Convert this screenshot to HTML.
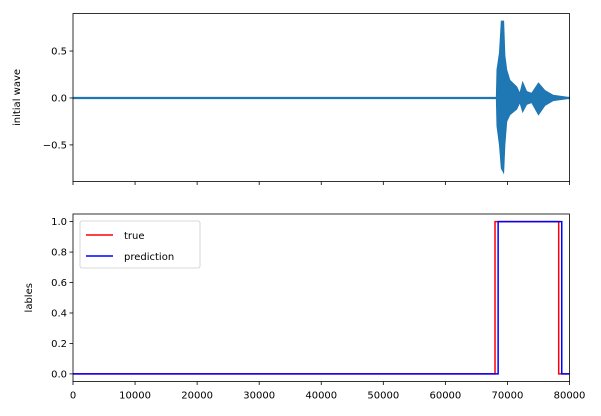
<!DOCTYPE html>
<html><head><meta charset="utf-8"><style>
body{margin:0;background:#fff;}
svg{display:block;font-family:"DejaVu Sans","Liberation Sans",sans-serif;}
</style></head><body>
<svg id="c" width="601" height="416" viewBox="0 0 601 416">
<rect width="601" height="416" fill="#fff"/>
<g id="topPanel"></g>
<g id="botPanel"></g>
</svg>
<script>
// x domain
const xTicks = [0,10000,20000,30000,40000,50000,60000,70000,80000];
// wave envelope (sample index, upper, lower)
const waveX = [0,68200,68300,68700,69000,69400,69600,69900,70400,71500,72000,72450,73100,73900,75000,76050,77350,79550,80000];
const waveUp = [0.008,0.008,0.3,0.48,0.82,0.82,0.45,0.3,0.19,0.12,0.05,0.17,0.07,0.05,0.16,0.08,0.03,0.01,0.008];
const waveLo = [-0.008,-0.008,-0.3,-0.5,-0.75,-0.8,-0.5,-0.25,-0.18,-0.12,-0.05,-0.15,-0.07,-0.05,-0.18,-0.08,-0.03,-0.01,-0.008];
const waveYTicks = [-0.5,0.0,0.5];
// labels
const trueX = [0,68000,68000,78260,78260,80000];
const trueY = [0,0,1,1,0,0];
const predX = [0,68500,68500,78750,78750,80000];
const predY = [0,0,1,1,0,0];
const labYTicks = [0.0,0.2,0.4,0.6,0.8,1.0];

const NS='http://www.w3.org/2000/svg';
const L=73,R=569.5;
const sx=v=>L+(v-0)/(80000-0)*(R-L);
const T1=13.5,B1=181.5, sy1=v=>B1-(v-(-0.89))/(0.90-(-0.89))*(B1-T1);
const T2=214,B2=381.5, sy2=v=>B2-(v-(-0.05))/(1.05-(-0.05))*(B2-T2);
function el(p,tag,a,txt){const e=document.createElementNS(NS,tag);for(const k in a)e.setAttribute(k,a[k]);if(txt!=null)e.textContent=txt;p.appendChild(e);return e;}
const gTop=document.getElementById('topPanel'),gBot=document.getElementById('botPanel');

// wave polygon
let pts=waveX.map((x,i)=>sx(x)+','+sy1(waveUp[i]));
for(let i=waveX.length-1;i>=0;i--)pts.push(sx(waveX[i])+','+sy1(waveLo[i]));
const wp=el(gTop,'polygon',{points:pts.join(' '),fill:'#1f77b4',stroke:'#1f77b4','stroke-width':0.8});



function axes(g,T,B,sy,yt,labels,ylab,ylx){
  const f=el(g,'rect',{x:L,y:T,width:R-L,height:B-T,fill:'none',stroke:'#000','stroke-width':0.8});
  
  
  xTicks.forEach(v=>{
    el(g,'line',{x1:sx(v),x2:sx(v),y1:B,y2:B+3.5,stroke:'#000','stroke-width':0.8});
    if(labels){const t=el(g,'text',{x:sx(v),y:B+17,'text-anchor':'middle','font-size':10},String(v));
      
      }
  });
  yt.forEach(v=>{
    el(g,'line',{x1:L-3.5,x2:L,y1:sy(v),y2:sy(v),stroke:'#000','stroke-width':0.8});
    const t=el(g,'text',{x:L-6,y:sy(v)+3.5,'text-anchor':'end','font-size':10},v.toFixed(1).replace('-','−'));
    
    
  });
  const yl=el(g,'text',{x:ylx,y:(T+B)/2,'text-anchor':'middle','font-size':10,transform:`rotate(-90 ${ylx} ${(T+B)/2})`},ylab);
  
  
}
axes(gTop,T1,B1,sy1,waveYTicks,false,'initial wave',20);

function line(xs,ys,c,name){
  const p=el(gBot,'polyline',{points:xs.map((x,i)=>sx(x)+','+sy2(ys[i])).join(' '),fill:'none',stroke:c,'stroke-width':1.5});
  
  
}
line(trueX,trueY,'#ff0000','true-line');
line(predX,predY,'#0000ff','prediction-line');
axes(gBot,T2,B2,sy2,labYTicks,true,'lables',32);

// legend
const lg=el(gBot,'g',{});


el(lg,'rect',{x:80,y:221,width:120,height:47,rx:2,fill:'#fff',stroke:'#ccc','stroke-width':0.8});
el(lg,'line',{x1:86,x2:113,y1:235,y2:235,stroke:'#ff0000','stroke-width':1.5});
const t1=el(lg,'text',{x:124,y:239,'font-size':10},'true');


el(lg,'line',{x1:86,x2:113,y1:256,y2:256,stroke:'#0000ff','stroke-width':1.5});
const t2=el(lg,'text',{x:124,y:260,'font-size':10},'prediction');


</script>
</body></html>
